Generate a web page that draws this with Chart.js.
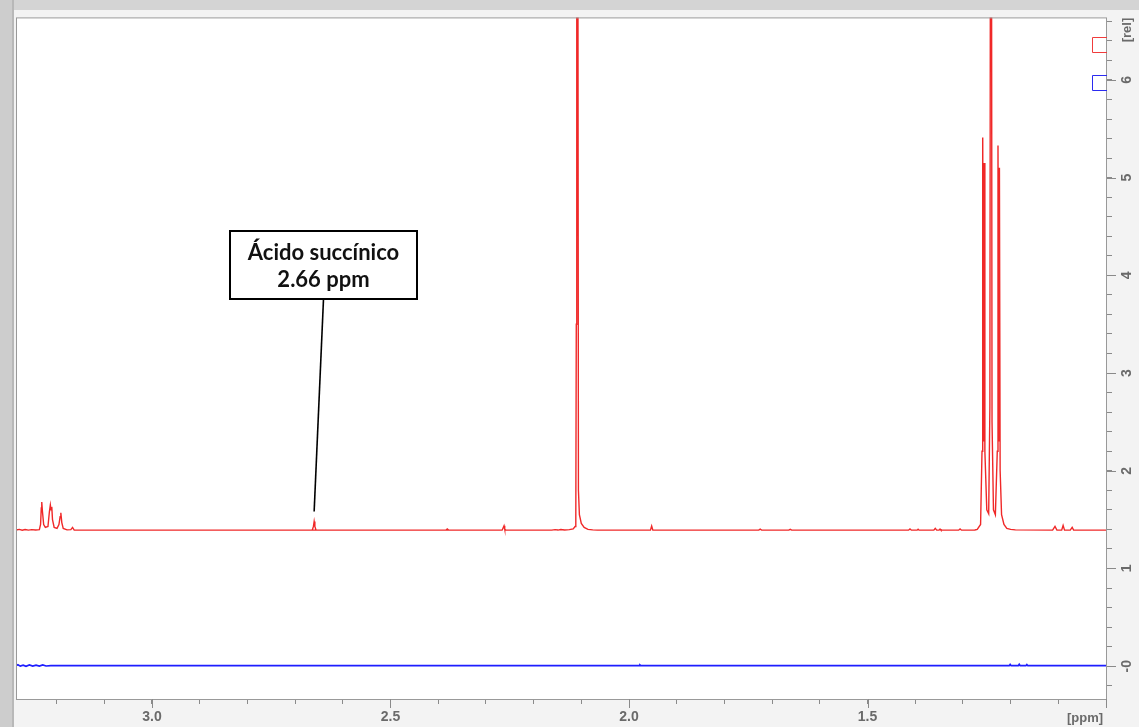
<!DOCTYPE html>
<html>
<head>
<meta charset="utf-8">
<script src="https://cdn.jsdelivr.net/npm/chart.js@4.4.1/dist/chart.umd.min.js"></script>
<style>
  html, body { margin: 0; padding: 0; background: #f3f3f3; }
  canvas { display: block; }
</style>
</head>
<body>
<canvas id="espectro" width="1139" height="727"></canvas>
<script>
// Desplazamiento del ácido succínico (ppm)
const succinicoPpm = 2.66;

// Espectro 1 (rojo): desplazamiento en ppm e intensidad relativa
const rojoPpm = [
  3.285, 3.278, 3.272, 3.266, 3.259, 3.252, 3.244, 3.236,
  3.2335, 3.232, 3.231, 3.2295, 3.227, 3.2235, 3.218, 3.215, 3.213, 3.2115, 3.21, 3.2085,
  3.205, 3.199, 3.195, 3.1925, 3.191, 3.189, 3.186, 3.178, 3.17, 3.1665, 3.163,
  2.9, 2.384, 2.381, 2.378,
  2.664, 2.6615, succinicoPpm, 2.6585, 2.656,
  2.266, 2.2635, 2.262, 2.2605, 2.258,
  2.162, 2.155, 2.149, 2.143, 2.135, 2.125, 2.117, 2.113, 2.1115, 2.1105, 2.1095, 2.1075,
  2.106, 2.104, 2.1, 2.094, 2.086, 2.076, 2.066,
  1.955, 1.9525, 1.95,
  1.728, 1.725, 1.722, 1.665, 1.662, 1.659,
  1.414, 1.411, 1.408, 1.396, 1.394, 1.392, 1.361, 1.358, 1.355, 1.35, 1.348, 1.346,
  1.309, 1.306, 1.303,
  1.275, 1.27, 1.263, 1.26, 1.2585, 1.257, 1.2555, 1.254, 1.25, 1.246, 1.2435, 1.242, 1.2405,
  1.239, 1.236, 1.232, 1.228, 1.2265, 1.225, 1.2235, 1.222, 1.219, 1.214, 1.208, 1.2, 1.19,
  1.112, 1.107, 1.103, 1.093, 1.09, 1.087, 1.075, 1.071, 1.068, 0.998
];
const rojoRel = [
  1.393, 1.4, 1.392, 1.398, 1.392, 1.397, 1.393, 1.398,
  1.45, 1.62, 1.68, 1.58, 1.45, 1.42, 1.43, 1.58, 1.65, 1.6, 1.63, 1.5,
  1.42, 1.41, 1.45, 1.53, 1.57, 1.47, 1.41, 1.395, 1.398, 1.42, 1.393,
  1.392, 1.392, 1.405, 1.392,
  1.392, 1.43, 1.48, 1.43, 1.392,
  1.392, 1.42, 1.436, 1.4, 1.392,
  1.392, 1.397, 1.393, 1.398, 1.394, 1.397, 1.405, 1.43, 1.55, 3.5, 9.5, 9.5,
  1.8, 1.55, 1.46, 1.42, 1.4, 1.395, 1.392,
  1.392, 1.435, 1.392,
  1.392, 1.402, 1.392, 1.392, 1.4, 1.392,
  1.392, 1.405, 1.392, 1.392, 1.402, 1.392, 1.392, 1.41, 1.392, 1.392, 1.404, 1.392,
  1.392, 1.405, 1.392,
  1.394, 1.4, 1.45, 2.2, 5.41, 2.3, 5.15, 2.2, 1.6, 1.56, 2.65, 9.5, 9.5,
  2.5, 1.6, 1.55, 2.2, 5.33, 2.3, 5.1, 2.0, 1.55, 1.45, 1.41, 1.4, 1.395,
  1.392, 1.43, 1.392, 1.392, 1.44, 1.392, 1.392, 1.42, 1.392, 1.392
];

// Espectro 2 (azul)
const azulPpm = [
  3.285, 3.281, 3.276, 3.27, 3.264, 3.257, 3.25, 3.243, 3.236, 3.229, 3.222, 3.212, 3.19,
  1.979, 1.977, 1.975,
  1.203, 1.201, 1.199, 1.184, 1.182, 1.18, 1.168, 1.166, 1.164, 0.998
];
const azulRel = [
  0.005, 0.014, 0.0, 0.01, -0.002, 0.012, 0.0, 0.011, 0.001, 0.012, 0.002, 0.006, 0.005,
  0.005, 0.012, 0.005,
  0.005, 0.018, 0.005, 0.005, 0.02, 0.005, 0.005, 0.017, 0.005, 0.005
];

// Rangos de los ejes
const ppmMin = 0.998, ppmMax = 3.285;
const relMin = -0.336, relMax = 6.64;

const puntos = (xs, ys) => xs.map((x, i) => ({ x: x, y: ys[i] }));

const fuenteEje = { family: 'Liberation Sans', size: 14, weight: 'bold' };
const grisEje = '#6a6a6a';

// Fondo, marco, marcas mayores, cuadros de la leyenda y la etiqueta del pico
const marco = {
  id: 'marco',
  beforeDraw(chart) {
    const { ctx, chartArea: a, width, height } = chart;
    ctx.save();
    ctx.fillStyle = '#f3f3f3';
    ctx.fillRect(0, 0, width, height);
    ctx.fillStyle = '#d4d4d4';
    ctx.fillRect(0, 0, width, 10);
    ctx.fillStyle = '#cdcdcd';
    ctx.fillRect(0, 0, 12, height);
    ctx.fillStyle = '#b8b8b8';
    ctx.fillRect(12, 0, 2, height);
    ctx.fillStyle = '#ffffff';
    ctx.fillRect(a.left, a.top, a.right - a.left, a.bottom - a.top);
    ctx.restore();
  },
  afterDraw(chart) {
    const { ctx, chartArea: a } = chart;
    const sx = chart.scales.x, sy = chart.scales.y;
    ctx.save();

    // marco del área de trazado
    ctx.strokeStyle = '#999999';
    ctx.lineWidth = 1;
    ctx.strokeRect(a.left + 0.5, a.top + 0.5, a.right - a.left - 1, a.bottom - a.top);

    // marcas mayores más largas
    ctx.strokeStyle = '#8a8a8a';
    ctx.beginPath();
    sx.ticks.forEach(t => {
      if (Math.round(t.value * 10) % 5 === 0) {
        const px = Math.round(sx.getPixelForValue(t.value)) + 0.5;
        ctx.moveTo(px, a.bottom);
        ctx.lineTo(px, a.bottom + 9);
      }
    });
    sy.ticks.forEach(t => {
      if (Math.abs(t.value - Math.round(t.value)) < 1e-6) {
        const py = Math.round(sy.getPixelForValue(t.value)) + 0.5;
        ctx.moveTo(a.right, py);
        ctx.lineTo(a.right + 9, py);
      }
    });
    ctx.stroke();

    // unidades de los ejes
    ctx.fillStyle = grisEje;
    ctx.font = 'bold 13px "Liberation Sans"';
    ctx.textAlign = 'center';
    ctx.textBaseline = 'middle';
    ctx.fillText('[ppm]', 1085, 718);
    ctx.translate(1127, 30);
    ctx.rotate(-Math.PI / 2);
    ctx.fillText('[rel]', 0, 0);
    ctx.setTransform(1, 0, 0, 1, 0, 0);

    // cuadros de cada espectro junto al eje derecho
    const cuadro = (color, y0) => {
      ctx.strokeStyle = color;
      ctx.lineWidth = 1;
      ctx.beginPath();
      ctx.moveTo(a.right, y0 + 0.5);
      ctx.lineTo(a.right - 14.5, y0 + 0.5);
      ctx.lineTo(a.right - 14.5, y0 + 15.5);
      ctx.lineTo(a.right, y0 + 15.5);
      ctx.stroke();
    };
    cuadro('#f03c3c', 37);
    cuadro('#2b2bf0', 75);

    // etiqueta del ácido succínico
    const caja = { x: 230, y: 231, w: 187, h: 68 };
    const px = sx.getPixelForValue(succinicoPpm);
    const py = sy.getPixelForValue(1.48) - 10;
    ctx.strokeStyle = '#000000';
    ctx.lineWidth = 1.6;
    ctx.beginPath();
    ctx.moveTo(caja.x + caja.w / 2, caja.y + caja.h);
    ctx.lineTo(px, py);
    ctx.stroke();
    ctx.fillStyle = '#ffffff';
    ctx.fillRect(caja.x, caja.y, caja.w, caja.h);
    ctx.lineWidth = 2;
    ctx.strokeRect(caja.x, caja.y, caja.w, caja.h);
    ctx.fillStyle = '#111111';
    ctx.font = 'bold 22px Lato';
    ctx.textAlign = 'center';
    ctx.textBaseline = 'alphabetic';
    ctx.fillText('Ácido succínico', caja.x + caja.w / 2, 260);
    ctx.fillText(succinicoPpm.toFixed(2) + ' ppm', caja.x + caja.w / 2, 287);
    ctx.restore();
  }
};

const ctx = document.getElementById('espectro').getContext('2d');
new Chart(ctx, {
  type: 'scatter',
  data: {
    datasets: [
      {
        label: 'Espectro 1',
        data: puntos(rojoPpm, rojoRel),
        showLine: true,
        borderColor: '#f02828',
        borderWidth: 1.4,
        pointRadius: 0,
        tension: 0
      },
      {
        label: 'Espectro 2',
        data: puntos(azulPpm, azulRel),
        showLine: true,
        borderColor: '#1e1eff',
        borderWidth: 1.7,
        pointRadius: 0,
        tension: 0
      }
    ]
  },
  options: {
    responsive: false,
    animation: false,
    layout: { padding: { left: 16, top: 13, right: 0, bottom: 0 } },
    plugins: {
      legend: { display: false },
      tooltip: { enabled: false }
    },
    scales: {
      x: {
        type: 'linear',
        reverse: true,
        min: ppmMin,
        max: ppmMax,
        afterFit: s => { s.height = 28; },
        border: { display: false },
        grid: { drawOnChartArea: false, tickLength: 5, color: '#8a8a8a' },
        ticks: {
          stepSize: 0.1,
          includeBounds: false,
          autoSkip: false,
          maxRotation: 0,
          padding: 5,
          color: grisEje,
          font: fuenteEje,
          callback: v => {
            const d = Math.round(v * 10);
            return (d % 5 === 0 && d > 10) ? (d / 10).toFixed(1) : '';
          }
        }
      },
      y: {
        position: 'right',
        min: relMin,
        max: relMax,
        afterFit: s => { s.width = 32; },
        border: { display: false },
        grid: { drawOnChartArea: false, tickLength: 5, color: '#8a8a8a' },
        ticks: {
          stepSize: 0.2,
          includeBounds: false,
          autoSkip: false,
          minRotation: 90,
          maxRotation: 90,
          crossAlign: 'center',
          padding: 9,
          color: grisEje,
          font: fuenteEje,
          callback: v => {
            if (Math.abs(v - Math.round(v)) > 1e-6) return '';
            const n = Math.round(v);
            return n === 0 ? '-0' : String(n);
          }
        }
      }
    }
  },
  plugins: [marco]
});
</script>
</body>
</html>
